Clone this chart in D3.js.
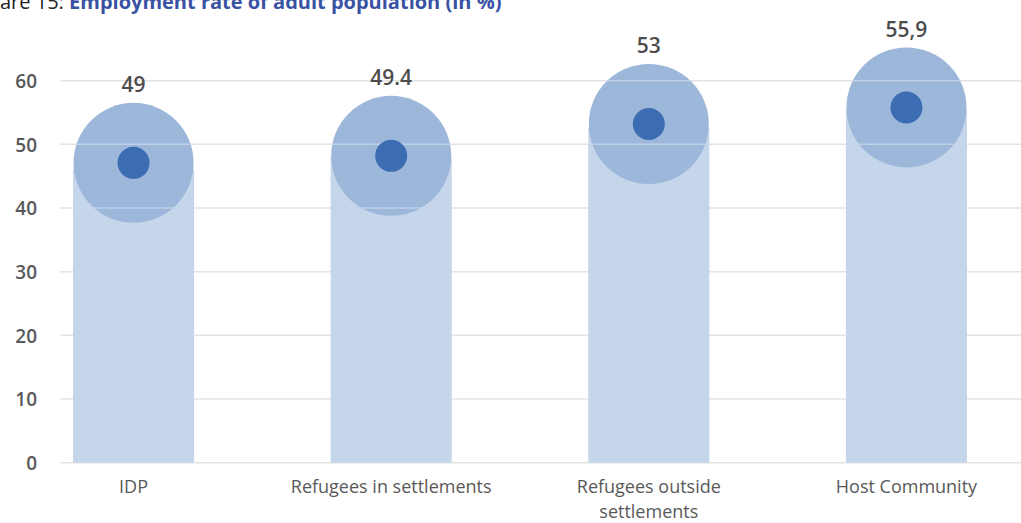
<!DOCTYPE html>
<html>
<head>
<meta charset="utf-8">
<script src="https://cdn.jsdelivr.net/npm/d3@7/dist/d3.min.js"></script>
<style>
  html, body { margin: 0; padding: 0; background: #fff; }
  svg { display: block; }
  text { font-family: "Open Sans", "DejaVu Sans", sans-serif; }
</style>
</head>
<body>
<svg id="chart" width="1021" height="523"></svg>
<script>
// ---- data ----
const categories = ["IDP", "Refugees in settlements", "Refugees outside\nsettlements", "Host Community"];
const barValues = [46.0, 48.0, 52.5, 55.4];
const markerValues = [47.1, 48.2, 53.2, 55.8];
const labelTexts = ["49", "49.4", "53", "55,9"];
const yTicks = [0, 10, 20, 30, 40, 50, 60];
const titlePrefix = "are 15: ";
const titleMain = "Employment rate of adult population (in %)";

// ---- layout ----
const svg = d3.select("#chart");
const gridLeft = 60, gridRight = 1021;

const x = d3.scaleBand()
  .domain(categories)
  .range([73, 967])
  .paddingInner(0.53)
  .paddingOuter(0);

const y = d3.scaleLinear().domain([0, 60]).range([462.7, 80.7]);

const bigR = 60, dotR = 16;

// title (cut at the top edge, as in the reference)
const title = svg.append("text")
  .attr("x", 0).attr("y", 8.5)
  .attr("font-size", 20);
title.append("tspan").attr("fill", "#222").text(titlePrefix);
title.append("tspan").attr("fill", "#3a52a4").attr("font-weight", "bold").text(titleMain);

// grid
svg.append("g").selectAll("line").data(yTicks).join("line")
  .attr("x1", gridLeft).attr("x2", gridRight)
  .attr("y1", d => y(d)).attr("y2", d => y(d))
  .attr("stroke", "#e3e3e3").attr("stroke-width", 1.5);

// y axis labels
const yAxis = d3.axisLeft(y).tickValues(yTicks).tickSize(0).tickPadding(0);
const gy = svg.append("g").attr("transform", "translate(37,0)").call(yAxis);
gy.select(".domain").remove();
gy.selectAll("text")
  .attr("font-size", 19)
  .attr("fill", "#595959")
  .attr("font-family", "\"Open Sans\", sans-serif")
  .attr("font-weight", 600)
  .attr("dy", "0.35em");

// bars
const idx = d3.range(categories.length);
svg.append("g").selectAll("rect").data(idx).join("rect")
  .attr("x", i => x(categories[i]))
  .attr("width", x.bandwidth())
  .attr("y", i => y(barValues[i]))
  .attr("height", i => y(0) - y(barValues[i]))
  .attr("fill", "#c5d5ea");

// big circles
const cx = i => x(categories[i]) + x.bandwidth() / 2;
svg.append("g").selectAll("circle").data(idx).join("circle")
  .attr("cx", cx)
  .attr("cy", i => y(markerValues[i]))
  .attr("r", bigR)
  .attr("fill", "#9db7db");

// faint gridlines through circles
const defs = svg.append("defs");
const clip = defs.append("clipPath").attr("id", "circClip");
clip.selectAll("circle").data(idx).join("circle")
  .attr("cx", cx).attr("cy", i => y(markerValues[i])).attr("r", bigR);
svg.append("g").attr("clip-path", "url(#circClip)")
  .selectAll("line").data(yTicks).join("line")
  .attr("x1", gridLeft).attr("x2", gridRight)
  .attr("y1", d => y(d)).attr("y2", d => y(d))
  .attr("stroke", "#ffffff").attr("stroke-opacity", 0.35).attr("stroke-width", 1.5);

// small dots
svg.append("g").selectAll("circle").data(idx).join("circle")
  .attr("cx", cx)
  .attr("cy", i => y(markerValues[i]))
  .attr("r", dotR)
  .attr("fill", "#3c6db3");

// value labels
svg.append("g").selectAll("text").data(idx).join("text")
  .attr("x", cx)
  .attr("y", i => y(markerValues[i]) - 78)
  .attr("dy", "0.35em")
  .attr("text-anchor", "middle")
  .attr("font-size", 21)
  .attr("font-weight", 600)
  .attr("fill", "#4d4d4d")
  .text(i => labelTexts[i]);

// category labels (one text element per line)
const catLines = [];
idx.forEach(i => categories[i].split("\n").forEach((l, k) => catLines.push({ i, k, l })));
svg.append("g").selectAll("text").data(catLines).join("text")
  .attr("x", d => cx(d.i))
  .attr("y", d => 493 + d.k * 25)
  .attr("text-anchor", "middle")
  .attr("font-size", 18)
  .attr("fill", "#595959")
  .text(d => d.l);
</script>
</body>
</html>
